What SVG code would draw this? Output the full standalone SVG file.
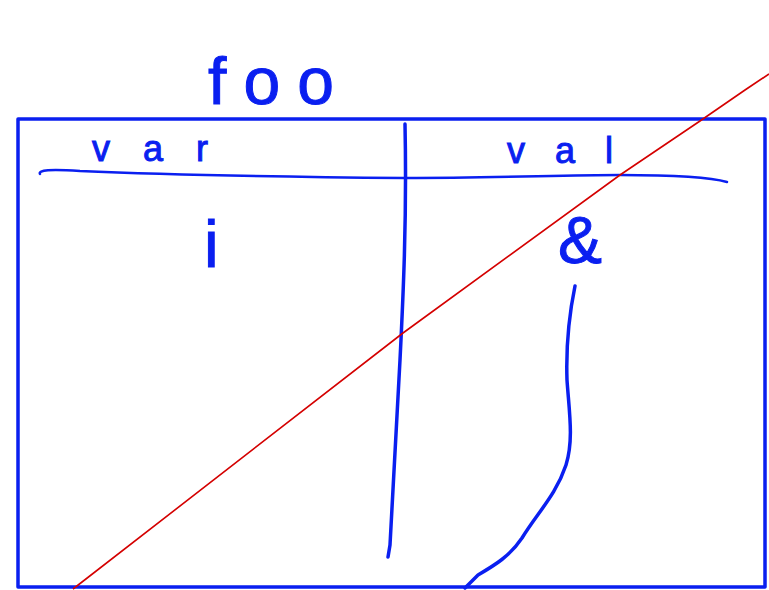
<svg xmlns="http://www.w3.org/2000/svg" width="769" height="590" viewBox="0 0 769 590">
<style>
.ink{fill:none;stroke:#0a1ff0;stroke-width:3.5;stroke-linecap:round;stroke-linejoin:round}
.thin{fill:none;stroke:#0a1ff0;stroke-width:2.5;stroke-linecap:round}
.red{fill:none;stroke:#d40000;stroke-width:1.6}
.t{font-family:"Liberation Sans",Arial,sans-serif;fill:#0a1ff0;stroke:#0a1ff0;stroke-width:1}
</style>
<rect width="769" height="590" fill="#ffffff"/>
<g id="frame">
<rect x="18" y="119" width="747" height="468" class="ink"/>
</g>
<g id="title"><text class="t" x="208" y="104" font-size="66" textLength="126" lengthAdjust="spacing">foo</text></g>
<g id="table">
<path class="thin" d="M40,174 C38,170 50,169 80,171 C150,174 300,177 405,178 C500,178 560,175 620,175 C680,175 710,177 727,182"/>
<path class="ink" d="M405,124 C407,220 403,300 400,360 C396,440 393,500 390,545 L388,557"/>
<text class="t" x="92" y="161" font-size="36" textLength="116" lengthAdjust="spacing">var</text>
<text class="t" x="507" y="163" font-size="36" textLength="106" lengthAdjust="spacing">val</text>
<text class="t" x="204" y="267" font-size="66">i</text>
<text class="t" x="558" y="263" font-size="66">&amp;</text>
<path class="ink" d="M575,286 C568,320 566,350 567,380 C569,410 574,440 566,465 C556,495 538,512 522,538 C510,556 495,565 478,575 L465,588"/>
</g>
<g id="connectors">
<path class="red" d="M73,589 L403,333 L620,175 L700,121 L745,90 L769,74"/>
</g>
</svg>
